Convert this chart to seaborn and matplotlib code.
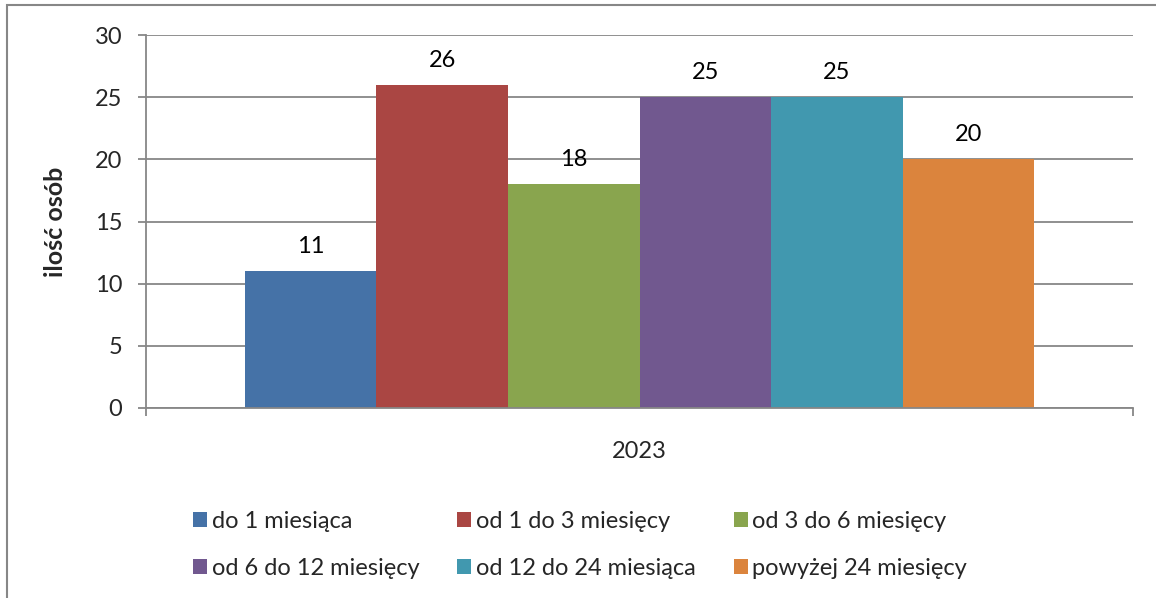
import matplotlib
matplotlib.use("Agg")
import matplotlib.pyplot as plt
import seaborn as sns
import pandas as pd
from matplotlib.patches import Rectangle

YEAR = ["2023"]
CATEGORIES = [
    "do 1 miesiąca",
    "od 1 do 3 miesięcy",
    "od 3 do 6 miesięcy",
    "od 6 do 12 miesięcy",
    "od 12 do 24 miesiąca",
    "powyżej 24 miesięcy",
]
VALUES = [11, 26, 18, 25, 25, 20]
COLORS = ["#4572A7", "#AA4643", "#89A54E", "#71588F", "#4198AF", "#DB843D"]
Y_TICKS = [0, 5, 10, 15, 20, 25, 30]

GREY = "#878787"
FS = 17


def chart():
    sns.set_style("white")
    plt.rcParams["font.family"] = ["Lato", "DejaVu Sans"]

    fig = plt.figure(figsize=(11.56, 5.98), dpi=100)
    ax = fig.add_axes([146 / 1156, 1 - 408 / 598, 987 / 1156, 373 / 598])

    df = pd.DataFrame({"rok": YEAR * len(CATEGORIES), "okres": CATEGORIES, "ilosc": VALUES})
    sns.barplot(data=df, x="rok", y="ilosc", hue="okres", hue_order=CATEGORIES,
                palette=COLORS, width=0.8, saturation=1, linewidth=0, ax=ax)

    # value labels above the bars
    for c in ax.containers:
        ax.bar_label(c, fmt="%d", padding=10, fontsize=FS, color="black")

    # axes look
    ax.set_ylim(0, 30)
    ax.set_xlim(-0.5, 0.5)
    ax.set_yticks(Y_TICKS)
    ax.yaxis.grid(True, color=GREY, linewidth=1.3)
    ax.set_axisbelow(True)
    for side in ["top", "right"]:
        ax.spines[side].set_visible(False)
    for side in ["left", "bottom"]:
        ax.spines[side].set_color(GREY)
        ax.spines[side].set_linewidth(1.3)
    ax.tick_params(axis="y", which="major", direction="out", length=6, width=1.3,
                   color=GREY, pad=11, labelsize=FS, left=True)

    ax.set_xticks([-0.5, 0.5])
    ax.set_xticklabels(["", ""])
    ax.set_xticks([0], minor=True)
    ax.set_xticklabels(YEAR, minor=True)
    ax.tick_params(axis="x", which="major", direction="out", length=6, width=1.3,
                   color=GREY, bottom=True)
    ax.tick_params(axis="x", which="minor", length=0, pad=24, labelsize=FS)

    ax.set_xlabel("")
    ax.set_ylabel("ilość osób", fontsize=FS + 1, fontweight="bold")
    ax.yaxis.set_label_coords(-0.08, 0.5)

    # legend, row-major order like the original
    handles, labels = ax.get_legend_handles_labels()
    ax.get_legend().remove()
    order = [0, 3, 1, 4, 2, 5]
    fig.legend([handles[i] for i in order], [labels[i] for i in order],
               ncol=3, loc="center", bbox_to_anchor=(580 / 1156, 1 - 545 / 598),
               bbox_transform=fig.transFigure, frameon=False, fontsize=FS,
               handlelength=0.6, handleheight=0.6, handletextpad=0.2,
               columnspacing=1.6, labelspacing=1.1)

    # outer chart frame
    fig.add_artist(Rectangle((7 / 1156, -0.2), 1.2, 1.2 - 5 / 598,
                             transform=fig.transFigure, fill=False,
                             edgecolor=GREY, linewidth=1.5))

    fig.savefig("out.png", dpi=100)


chart()
